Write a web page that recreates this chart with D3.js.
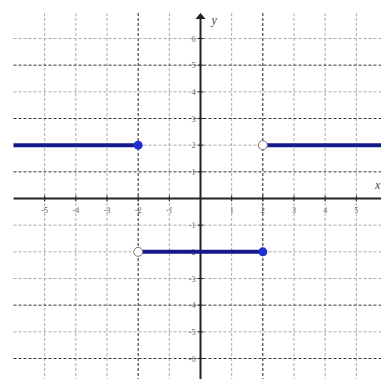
<!DOCTYPE html>
<html>
<head>
<meta charset="utf-8">
<script src="https://cdn.jsdelivr.net/npm/d3@7"></script>
<style>
  body { margin: 0; background: #fff; }
  svg { display: block; }
  .tick-label { font-family: "Liberation Serif", "DejaVu Serif", serif; font-size: 8px; fill: #666; }
  .axis-name { font-family: "Liberation Serif", "DejaVu Serif", serif; font-size: 12px; font-style: italic; fill: #444; }
</style>
</head>
<body>
<div id="chart"></div>
<script>
// piecewise function: y = 2 (x <= -2), y = -2 (-2 < x <= 2), y = 2 (x > 2)
var segments = [
  { x0: -6, x1: -2, y: 2 },
  { x0: -2, x1: 2, y: -2 },
  { x0: 2, x1: 6.2, y: 2 }
];
var closedDots = [[-2, 2], [2, -2]];
var openDots = [[-2, -2], [2, 2]];

var xTicks = [-5, -4, -3, -2, -1, 1, 2, 3, 4, 5];
var yTicks = [-6, -5, -4, -3, -2, -1, 1, 2, 3, 4, 5, 6];
var darkX = [-2, 2];          // grid lines that came out darker in the scan
var darkY = [-6, -4, 1, 3, 5];

var width = 381, height = 379;

var svg = d3.select("#chart").append("svg")
  .attr("width", width)
  .attr("height", height);

var x = d3.scaleLinear().domain([-6, 6]).range([13.5, 387.5]);
var y = d3.scaleLinear().domain([-6, 6]).range([358.5, 38.5]);

var gridLeft = x(-6), gridTop = 13;

// dashed grid
svg.append("g").selectAll("line")
  .data(xTicks)
  .enter().append("line")
  .attr("x1", d => x(d)).attr("x2", d => x(d))
  .attr("y1", gridTop).attr("y2", height)
  .attr("stroke", d => darkX.includes(d) ? "#222" : "#aaa")
  .attr("stroke-width", 1)
  .attr("stroke-dasharray", "3,2");

svg.append("g").selectAll("line")
  .data(yTicks)
  .enter().append("line")
  .attr("x1", gridLeft).attr("x2", width)
  .attr("y1", d => y(d)).attr("y2", d => y(d))
  .attr("stroke", d => darkY.includes(d) ? "#333" : "#aaa")
  .attr("stroke-width", 1)
  .attr("stroke-dasharray", "3,2");

// axes
svg.append("line")
  .attr("x1", gridLeft).attr("x2", width)
  .attr("y1", y(0)).attr("y2", y(0))
  .attr("stroke", "#222").attr("stroke-width", 2);
svg.append("line")
  .attr("x1", x(0)).attr("x2", x(0))
  .attr("y1", gridTop + 4).attr("y2", height)
  .attr("stroke", "#222").attr("stroke-width", 2);
svg.append("path")
  .attr("d", "M" + x(0) + "," + gridTop + "l-5,6h10z")
  .attr("fill", "#222");

// tick marks
svg.append("g").selectAll("line")
  .data(xTicks)
  .enter().append("line")
  .attr("x1", d => x(d)).attr("x2", d => x(d))
  .attr("y1", y(0) - 3).attr("y2", y(0) + 3)
  .attr("stroke", "#222");
svg.append("g").selectAll("line")
  .data(yTicks)
  .enter().append("line")
  .attr("x1", x(0) - 3).attr("x2", x(0) + 3)
  .attr("y1", d => y(d)).attr("y2", d => y(d))
  .attr("stroke", "#222");

// tick labels
svg.append("g").selectAll("text")
  .data(xTicks)
  .enter().append("text")
  .attr("class", "tick-label")
  .attr("x", d => x(d))
  .attr("y", y(0) + 14)
  .attr("text-anchor", "middle")
  .text(d => d);
svg.append("g").selectAll("text")
  .data(yTicks)
  .enter().append("text")
  .attr("class", "tick-label")
  .attr("x", x(0) - 5)
  .attr("y", d => y(d) + 3)
  .attr("text-anchor", "end")
  .text(d => d);

svg.append("text").attr("class", "axis-name")
  .attr("x", x(0) + 11).attr("y", 24).text("y");
svg.append("text").attr("class", "axis-name")
  .attr("x", 375).attr("y", y(0) - 10).text("x");

// function segments
svg.append("g").selectAll("line")
  .data(segments)
  .enter().append("line")
  .attr("x1", d => x(d.x0)).attr("x2", d => x(d.x1))
  .attr("y1", d => y(d.y)).attr("y2", d => y(d.y))
  .attr("stroke", "#141a8a")
  .attr("stroke-width", 4);

svg.append("g").selectAll("circle")
  .data(closedDots)
  .enter().append("circle")
  .attr("cx", d => x(d[0])).attr("cy", d => y(d[1]))
  .attr("r", 4.5)
  .attr("fill", "#1f2fcf");

svg.append("g").selectAll("circle")
  .data(openDots)
  .enter().append("circle")
  .attr("cx", d => x(d[0])).attr("cy", d => y(d[1]))
  .attr("r", 4.5)
  .attr("fill", "#fff")
  .attr("stroke", "#777")
  .attr("stroke-width", 1);
</script>
</body>
</html>
